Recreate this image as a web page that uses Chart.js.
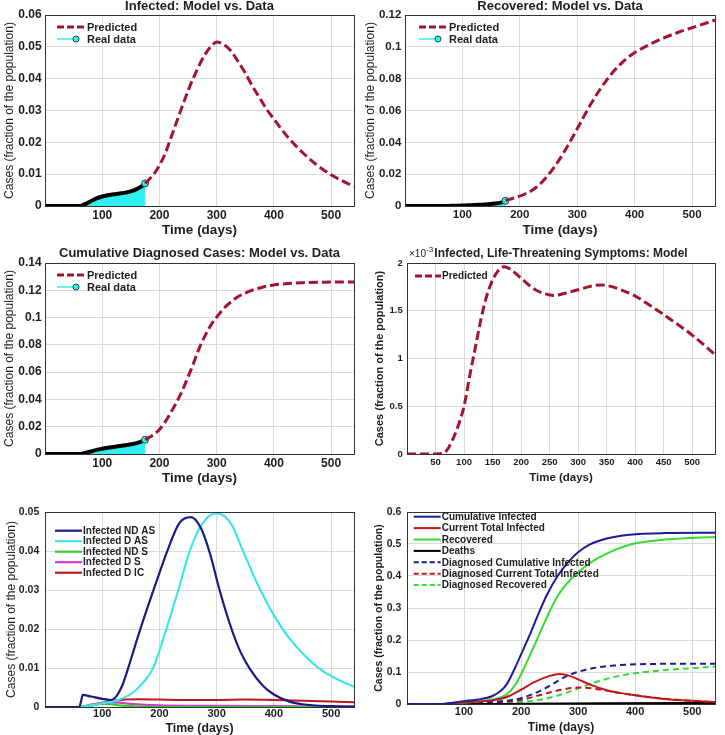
<!DOCTYPE html>
<html>
<head>
<meta charset="utf-8">
<script src="https://cdn.jsdelivr.net/npm/chart.js@4.4.1/dist/chart.umd.min.js"></script>
<style>
  body { margin: 0; background: #fff; }
  #fig { position: relative; width: 725px; height: 735px; overflow: hidden; }
  .panel { position: absolute; }
</style>
</head>
<body>
<div id="fig">
  <div class="panel" style="left:0;top:0;width:362px;height:240px"><canvas id="c1"></canvas></div>
  <div class="panel" style="left:362px;top:0;width:363px;height:240px"><canvas id="c2"></canvas></div>
  <div class="panel" style="left:0;top:240px;width:362px;height:250px"><canvas id="c3"></canvas></div>
  <div class="panel" style="left:362px;top:240px;width:363px;height:250px"><canvas id="c4"></canvas></div>
  <div class="panel" style="left:0;top:490px;width:362px;height:245px"><canvas id="c5"></canvas></div>
  <div class="panel" style="left:362px;top:490px;width:363px;height:245px"><canvas id="c6"></canvas></div>
</div>
<script>
// ---- tick values ----
const xTicksMain = [100, 200, 300, 400, 500];
const xTicksLife = [50, 100, 150, 200, 250, 300, 350, 400, 450, 500];
const yTicksInf = [0, 0.01, 0.02, 0.03, 0.04, 0.05, 0.06];
const yTicksRec = [0, 0.02, 0.04, 0.06, 0.08, 0.1, 0.12];
const yTicksCum = [0, 0.02, 0.04, 0.06, 0.08, 0.1, 0.12, 0.14];
const yTicksLife = [0, 0.5, 1, 1.5, 2];
const yTicksComp = [0, 0.01, 0.02, 0.03, 0.04, 0.05];
const yTicksAll = [0, 0.1, 0.2, 0.3, 0.4, 0.5, 0.6];

// ---- real data (days 0-175) ----
const realDays = [0, 20, 40, 60, 65, 70, 80, 90, 100, 110, 120, 130, 140, 150, 160, 170, 175];
const realInfected = [0, 0, 0, 0, 0.0002, 0.0006, 0.0015, 0.0024, 0.003, 0.0034, 0.0037, 0.0039, 0.0042, 0.0046, 0.0053, 0.0063, 0.0071];
const realRecovered = [0, 0, 0, 0, 0, 0.00005, 0.0001, 0.0002, 0.0003, 0.0004, 0.0006, 0.0008, 0.001, 0.0013, 0.0017, 0.0024, 0.0033];
const realCumDiag = [0, 0, 0, 0, 0.0002, 0.0007, 0.0018, 0.003, 0.0039, 0.0046, 0.0052, 0.0058, 0.0064, 0.0071, 0.008, 0.0094, 0.0105];

// ---- model prediction (days 175-540) ----
const predDays = [175, 190, 200, 210, 220, 230, 240, 250, 260, 270, 280, 290, 300, 312, 325, 337, 350, 362, 375, 387, 400, 425, 450, 475, 500, 525, 540];
const predInfected = [0.0071, 0.01, 0.0128, 0.0165, 0.0214, 0.0264, 0.0314, 0.0362, 0.0405, 0.0444, 0.0477, 0.0501, 0.0515, 0.0508, 0.0487, 0.0455, 0.0418, 0.0378, 0.034, 0.0305, 0.0273, 0.0215, 0.0168, 0.0129, 0.0098, 0.0074, 0.0062];
const predRecovered = [0.0035, 0.005, 0.0062, 0.0077, 0.0096, 0.0121, 0.0155, 0.0197, 0.0245, 0.0298, 0.0357, 0.042, 0.0485, 0.0565, 0.0648, 0.0718, 0.0785, 0.084, 0.089, 0.093, 0.0963, 0.1013, 0.1055, 0.109, 0.112, 0.115, 0.1168];
const predCumDiag = [0.0105, 0.0142, 0.018, 0.0235, 0.0305, 0.038, 0.0465, 0.0565, 0.067, 0.078, 0.087, 0.0945, 0.1003, 0.1065, 0.1115, 0.1152, 0.118, 0.12, 0.1217, 0.123, 0.1239, 0.125, 0.1256, 0.1259, 0.126, 0.126, 0.126];

// life-threatening symptoms (x10^-3)
const lifeDays = [0, 50, 62, 70, 80, 90, 100, 110, 120, 130, 140, 150, 160, 170, 180, 200, 225, 250, 260, 275, 300, 325, 340, 350, 375, 400, 425, 450, 475, 500, 525, 540];
const lifeThreat = [0, 0, 0.005, 0.04, 0.15, 0.3, 0.5, 0.82, 1.12, 1.42, 1.66, 1.82, 1.92, 1.96, 1.94, 1.84, 1.72, 1.665, 1.66, 1.68, 1.72, 1.76, 1.77, 1.765, 1.72, 1.655, 1.56, 1.46, 1.355, 1.245, 1.12, 1.04];

// ---- infected compartments ----
const ndasDays = [0, 60, 63, 66, 80, 100, 115, 125, 135, 145, 157, 170, 192, 215, 235, 255, 272, 288, 306, 326, 342, 358, 380, 400, 425, 450, 500, 540];
const ndas = [0, 0, 0.0015, 0.0031, 0.0027, 0.0021, 0.0018, 0.0028, 0.0055, 0.0098, 0.0155, 0.0215, 0.031, 0.0405, 0.0472, 0.0487, 0.046, 0.0395, 0.0295, 0.02, 0.014, 0.0098, 0.0056, 0.0032, 0.0015, 0.0007, 0.0002, 0.0001];
const dasDays = [0, 60, 80, 100, 125, 150, 170, 189, 212, 233, 253, 275, 300, 325, 346, 373, 400, 425, 450, 480, 510, 540];
const das = [0, 0, 0.0004, 0.0009, 0.0017, 0.0033, 0.006, 0.01, 0.02, 0.03, 0.04, 0.047, 0.0497, 0.047, 0.04, 0.031, 0.0235, 0.018, 0.0138, 0.0098, 0.0072, 0.0052];
const ndsDays = [0, 60, 80, 100, 115, 130, 150, 175, 200, 540];
const nds = [0, 0, 0.0004, 0.0008, 0.0007, 0.0004, 0.0002, 0.0001, 0, 0];
const dsDays = [0, 60, 80, 100, 115, 130, 150, 200, 250, 300, 400, 540];
const ds = [0, 0, 0.0006, 0.001, 0.0012, 0.0011, 0.0008, 0.0004, 0.0003, 0.0003, 0.0002, 0.0001];
const dicDays = [0, 60, 80, 100, 120, 140, 165, 200, 250, 300, 350, 400, 450, 500, 540];
const dic = [0, 0, 0.0004, 0.0011, 0.0016, 0.0019, 0.002, 0.0019, 0.0018, 0.0018, 0.0019, 0.0018, 0.0016, 0.0014, 0.0012];

// ---- totals ----
const cumInfDays = [0, 60, 80, 100, 125, 150, 165, 175, 186, 200, 215, 230, 245, 264, 285, 300, 320, 350, 390, 450, 540];
const cumInf = [0, 0, 0.004, 0.009, 0.014, 0.025, 0.042, 0.062, 0.1, 0.155, 0.215, 0.28, 0.34, 0.4, 0.448, 0.474, 0.498, 0.517, 0.529, 0.534, 0.535];
const curInfDays = [0, 60, 100, 150, 175, 200, 225, 250, 268, 285, 300, 325, 350, 375, 400, 450, 500, 540];
const curInf = [0, 0, 0.005, 0.012, 0.022, 0.045, 0.07, 0.088, 0.094, 0.088, 0.077, 0.058, 0.043, 0.034, 0.027, 0.016, 0.01, 0.006];
const recDays = [0, 70, 100, 125, 150, 175, 190, 202, 215, 230, 245, 260, 275, 293, 320, 350, 395, 450, 500, 540];
const recovered = [0, 0, 0.004, 0.008, 0.014, 0.03, 0.06, 0.1, 0.15, 0.21, 0.27, 0.325, 0.365, 0.4, 0.44, 0.47, 0.5, 0.513, 0.519, 0.522];
const deathDays = [0, 150, 250, 350, 540];
const deaths = [0, 0.0003, 0.0015, 0.0025, 0.003];

const FONT = '"Liberation Sans", Arial, Helvetica, sans-serif';
const INK = '#1e1e1e';
const GRID = '#dadada';
const DARKRED = '#a2142f';
const CYAN = '#2ff0f0';

const pts = (days, vals) => days.map((d, i) => ({ x: d, y: vals[i] }));

// axes box
const frame = {
  id: 'frame',
  afterDatasetsDraw(chart) {
    const { ctx, chartArea: a } = chart;
    ctx.save();
    ctx.strokeStyle = '#333';
    ctx.lineWidth = 1;
    ctx.strokeRect(Math.round(a.left) + 0.5, Math.round(a.top) + 0.5, Math.round(a.right - a.left), Math.round(a.bottom - a.top));
    ctx.restore();
  }
};

// legend drawn inside the plot, upper left
const boxLegend = {
  id: 'boxLegend',
  afterDraw(chart, args, o) {
    if (!o.items) return;
    const { ctx, chartArea: a } = chart;
    ctx.save();
    ctx.font = 'bold ' + o.size + 'px ' + FONT;
    ctx.textBaseline = 'middle';
    o.items.forEach((it, i) => {
      const y = a.top + o.top + i * o.gap;
      const x0 = a.left + o.left;
      const end = it.marker ? x0 + o.len - 10 : x0 + o.len;
      ctx.strokeStyle = it.color;
      ctx.lineWidth = it.width;
      ctx.setLineDash(it.dash || []);
      ctx.beginPath();
      ctx.moveTo(x0, y);
      ctx.lineTo(end, y);
      ctx.stroke();
      ctx.setLineDash([]);
      if (it.marker) {
        ctx.beginPath();
        ctx.arc(end, y, 3, 0, Math.PI * 2);
        ctx.fillStyle = CYAN;
        ctx.fill();
        ctx.lineWidth = 1;
        ctx.strokeStyle = '#1c4a4a';
        ctx.stroke();
      }
      ctx.fillStyle = INK;
      ctx.fillText(it.text, x0 + o.len + 1, y + 0.5);
    });
    ctx.restore();
  }
};

// "x10^-3" multiplier above the y axis
const expLabel = {
  id: 'expLabel',
  afterDraw(chart, args, o) {
    if (!o.text) return;
    const { ctx, chartArea: a } = chart;
    ctx.save();
    ctx.fillStyle = INK;
    ctx.textBaseline = 'alphabetic';
    ctx.font = '10px ' + FONT;
    ctx.fillText('\u00d710', a.left + 2, a.top - 6);
    const w = ctx.measureText('\u00d710').width;
    ctx.font = '8px ' + FONT;
    ctx.fillText(o.text, a.left + 2 + w, a.top - 11);
    ctx.restore();
  }
};

function makePanel(id, s) {
  return new Chart(document.getElementById(id), {
    type: 'line',
    data: { datasets: s.datasets },
    options: {
      responsive: true,
      maintainAspectRatio: false,
      animation: false,
      layout: { padding: { top: s.padTop, right: s.padRight, left: 0, bottom: 0 } },
      elements: { point: { radius: 0 }, line: { cubicInterpolationMode: 'monotone' } },
      plugins: {
        legend: { display: false },
        tooltip: { enabled: false },
        title: {
          display: !!s.title,
          text: s.title,
          fullSize: false,
          color: INK,
          font: { family: FONT, size: s.titleSize, weight: 'bold', lineHeight: 1 },
          padding: { top: 0, bottom: s.titleGap || 0 }
        },
        boxLegend: s.legend,
        expLabel: { text: s.exp }
      },
      scales: {
        x: {
          type: 'linear', min: 0, max: 540,
          afterBuildTicks: sc => { sc.ticks = s.xTicks.map(v => ({ value: v })); },
          afterFit: sc => { sc.height = s.xh; },
          grid: { color: GRID, drawTicks: false },
          border: { display: false },
          ticks: { color: INK, padding: s.xTickPad, maxRotation: 0, autoSkip: false,
                   font: { family: FONT, size: s.tickSize, weight: 'bold' },
                   callback: v => String(v) },
          title: { display: true, text: 'Time (days)', color: INK,
                   font: { family: FONT, size: s.xTitleSize, weight: 'bold', lineHeight: 1 },
                   padding: { top: 0, bottom: s.xTitlePad } }
        },
        y: {
          type: 'linear', min: 0, max: s.yTicks[s.yTicks.length - 1],
          afterBuildTicks: sc => { sc.ticks = s.yTicks.map(v => ({ value: v })); },
          afterFit: sc => { sc.width = s.yw; },
          grid: { color: GRID, drawTicks: false },
          border: { display: false },
          ticks: { color: INK, padding: s.yTickPad, autoSkip: false,
                   font: { family: FONT, size: s.yTickSize || s.tickSize, weight: 'bold' },
                   callback: v => String(v) },
          title: { display: true, text: 'Cases (fraction of the population)', color: INK,
                   font: { family: FONT, size: s.yTitleSize, weight: s.yTitleWeight, lineHeight: 1 },
                   padding: { top: s.yTitlePad, bottom: 0 } }
        }
      }
    },
    plugins: [frame, boxLegend, expLabel]
  });
}

// model vs data panels share this layout
function fitDatasets(real, pred) {
  const last = realDays.length - 1;
  return [
    { label: 'Predicted', data: pts(predDays, pred), borderColor: DARKRED, borderWidth: 3, borderDash: [9, 4], fill: false },
    { label: 'Real data', data: pts(realDays, real), borderColor: '#000', borderWidth: 4,
      backgroundColor: CYAN, fill: 'origin',
      pointRadius: realDays.map((d, i) => i === last ? 3.5 : 0),
      pointBackgroundColor: CYAN, pointBorderColor: '#1c4a4a', pointBorderWidth: 1 }
  ];
}
const fitLegend = (left, top) => ({
  left, top, gap: 12, len: 29, size: 11,
  items: [
    { text: 'Predicted', color: DARKRED, width: 3, dash: [7, 3] },
    { text: 'Real data', color: CYAN, width: 1.5, marker: true }
  ]
});

makePanel('c1', {
  title: 'Infected: Model vs. Data', titleSize: 13, titleGap: 2, padTop: 0, padRight: 8,
  xh: 34, yw: 45, tickSize: 12, xTickPad: 2, yTickPad: 3.3,
  xTitleSize: 13.5, xTitlePad: 3.3, yTitleSize: 12, yTitleWeight: 'normal', yTitlePad: 4,
  xTicks: xTicksMain, yTicks: yTicksInf,
  datasets: fitDatasets(realInfected, predInfected), legend: fitLegend(12, 12)
});

makePanel('c2', {
  title: 'Recovered: Model vs. Data', titleSize: 13, titleGap: 2, padTop: 0, padRight: 10,
  xh: 34, yw: 43, tickSize: 11.5, xTickPad: 2, yTickPad: 3.7,
  xTitleSize: 13.5, xTitlePad: 3.3, yTitleSize: 12, yTitleWeight: 'normal', yTitlePad: 2.3,
  xTicks: xTicksMain, yTicks: yTicksRec,
  datasets: fitDatasets(realRecovered, predRecovered), legend: fitLegend(14, 12)
});

makePanel('c3', {
  title: 'Cumulative Diagnosed Cases: Model vs. Data', titleSize: 13, titleGap: 3.5, padTop: 6.5, padRight: 8,
  xh: 36, yw: 45, tickSize: 12, xTickPad: 2, yTickPad: 3.3,
  xTitleSize: 13.5, xTitlePad: 5, yTitleSize: 12, yTitleWeight: 'normal', yTitlePad: 4,
  xTicks: xTicksMain, yTicks: yTicksCum,
  datasets: fitDatasets(realCumDiag, predCumDiag), legend: fitLegend(12, 12)
});

makePanel('c4', {
  title: 'Infected, Life-Threatening Symptoms: Model', titleSize: 12, titleGap: 3, padTop: 8, padRight: 10,
  xh: 36, yw: 45, tickSize: 9.5, xTickPad: 2.7, yTickPad: 4.3,
  xTitleSize: 11.5, xTitlePad: 6, yTitleSize: 11, yTitleWeight: 'bold', yTitlePad: 12.8,
  xTicks: xTicksLife, yTicks: yTicksLife, exp: '-3',
  datasets: [
    { label: 'Predicted', data: pts(lifeDays, lifeThreat), borderColor: DARKRED, borderWidth: 3, borderDash: [9, 4], fill: false }
  ],
  legend: { left: 8, top: 13, gap: 12, len: 26, size: 10,
            items: [{ text: 'Predicted', color: DARKRED, width: 3, dash: [7, 3] }] }
});

const compColors = ['#1a1a86', '#3fe6e6', '#33cc33', '#cc3dcc', '#c0181a'];
makePanel('c5', {
  padTop: 22, padRight: 8,
  xh: 28, yw: 45, tickSize: 11, yTickSize: 10.5, xTickPad: 0.5, yTickPad: 5.7,
  xTitleSize: 12.3, xTitlePad: 0.5, yTitleSize: 12, yTitleWeight: 'normal', yTitlePad: 5.7,
  xTicks: xTicksMain, yTicks: yTicksComp,
  datasets: [
    { label: 'Infected ND AS', data: pts(ndasDays, ndas), borderColor: compColors[0], borderWidth: 2.2 },
    { label: 'Infected D AS', data: pts(dasDays, das), borderColor: compColors[1], borderWidth: 2.2 },
    { label: 'Infected ND S', data: pts(ndsDays, nds), borderColor: compColors[2], borderWidth: 2.2 },
    { label: 'Infected D S', data: pts(dsDays, ds), borderColor: compColors[3], borderWidth: 2.2 },
    { label: 'Infected D IC', data: pts(dicDays, dic), borderColor: compColors[4], borderWidth: 2 }
  ],
  legend: { left: 10, top: 18.7, gap: 10.5, len: 27, size: 10,
            items: ['Infected ND AS', 'Infected D AS', 'Infected ND S', 'Infected D S', 'Infected D IC']
              .map((t, i) => ({ text: t, color: compColors[i], width: 2.2 })) }
});

const NAVY = '#1c1c96', RED = '#c01818', GREEN = '#33dd33';
const allDays = realDays.concat(predDays.slice(1));
const dash6 = [6, 4];
makePanel('c6', {
  padTop: 22, padRight: 10,
  xh: 31, yw: 45, tickSize: 11, yTickSize: 10.5, xTickPad: 1.7, yTickPad: 5.7,
  xTitleSize: 12, xTitlePad: 1.7, yTitleSize: 10.5, yTitleWeight: 'bold', yTitlePad: 11.5,
  xTicks: xTicksMain, yTicks: yTicksAll,
  datasets: [
    { label: 'Cumulative Infected', data: pts(cumInfDays, cumInf), borderColor: NAVY, borderWidth: 2 },
    { label: 'Current Total Infected', data: pts(curInfDays, curInf), borderColor: RED, borderWidth: 2 },
    { label: 'Recovered', data: pts(recDays, recovered), borderColor: GREEN, borderWidth: 2 },
    { label: 'Deaths', data: pts(deathDays, deaths), borderColor: '#000', borderWidth: 2 },
    { label: 'Diagnosed Cumulative Infected', data: pts(allDays, realCumDiag.concat(predCumDiag.slice(1))), borderColor: NAVY, borderWidth: 2, borderDash: dash6 },
    { label: 'Diagnosed Current Total Infected', data: pts(allDays, realInfected.concat(predInfected.slice(1))), borderColor: RED, borderWidth: 2, borderDash: dash6 },
    { label: 'Diagnosed Recovered', data: pts(allDays, realRecovered.concat(predRecovered.slice(1))), borderColor: GREEN, borderWidth: 2, borderDash: dash6 }
  ],
  legend: { left: 6.7, top: 4.7, gap: 11.4, len: 27, size: 10,
            items: [
              { text: 'Cumulative Infected', color: NAVY, width: 2 },
              { text: 'Current Total Infected', color: RED, width: 2 },
              { text: 'Recovered', color: GREEN, width: 2 },
              { text: 'Deaths', color: '#000', width: 2 },
              { text: 'Diagnosed Cumulative Infected', color: NAVY, width: 2, dash: [5, 3] },
              { text: 'Diagnosed Current Total Infected', color: RED, width: 2, dash: [5, 3] },
              { text: 'Diagnosed Recovered', color: GREEN, width: 2, dash: [5, 3] }
            ] }
});
</script>
</body>
</html>
